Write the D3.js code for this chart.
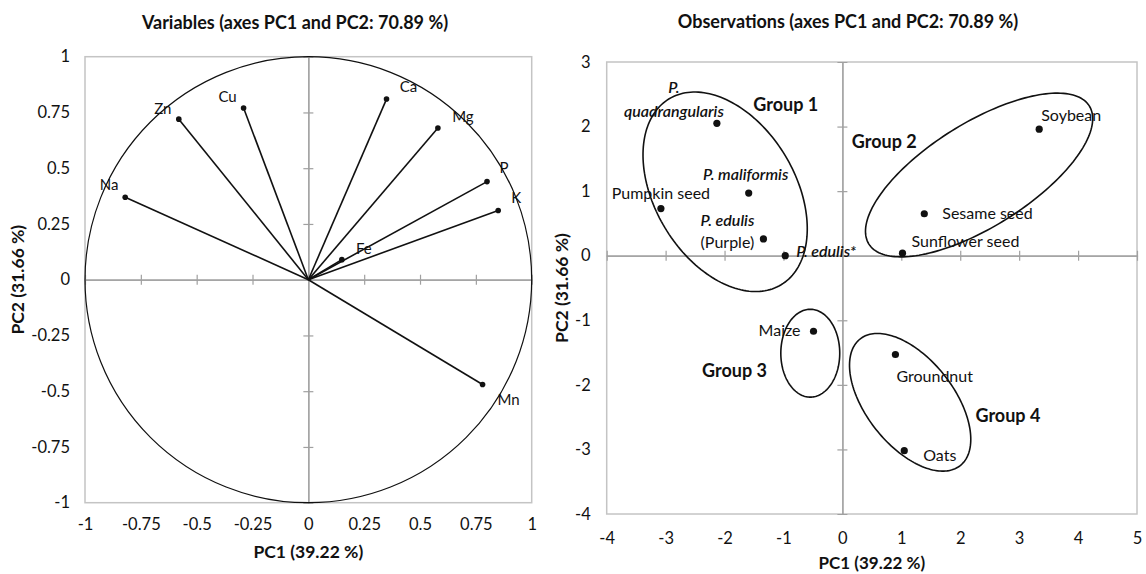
<!DOCTYPE html>
<html><head><meta charset="utf-8">
<script src="https://cdn.jsdelivr.net/npm/d3@7"></script>
<style>
body{margin:0;background:#fff}
svg{display:block}
text{font-family:Lato,"Open Sans",sans-serif;fill:#111}
</style>
</head><body>
<svg id="chart" width="1146" height="574"></svg>
<script>
// ---------------- DATA ----------------
const leftTitle = "Variables (axes PC1 and PC2: 70.89 %)";
const rightTitle = "Observations (axes PC1 and PC2: 70.89 %)";
const xTitle = "PC1 (39.22 %)";
const yTitle = "PC2 (31.66 %)";

const varNames = ["Na", "Zn", "Cu", "Ca", "Mg", "P", "K", "Fe", "Mn"];
const varPC1 = [-0.82, -0.58, -0.29, 0.35, 0.58, 0.80, 0.85, 0.15, 0.78];
const varPC2 = [0.37, 0.72, 0.77, 0.81, 0.68, 0.44, 0.31, 0.09, -0.47];
const varTicks = [-1, -0.75, -0.5, -0.25, 0, 0.25, 0.5, 0.75, 1];

const obsNames = ["P. quadrangularis", "P. maliformis", "Pumpkin seed", "P. edulis (Purple)", "P. edulis*",
  "Soybean", "Sesame seed", "Sunflower seed", "Maize", "Groundnut", "Oats"];
const obsPC1 = [-2.13, -1.59, -3.08, -1.34, -0.97, 3.34, 1.39, 1.02, -0.49, 0.90, 1.05];
const obsPC2 = [2.05, 0.97, 0.73, 0.26, 0.00, 1.96, 0.65, 0.04, -1.17, -1.53, -3.02];
const obsXTicks = [-4, -3, -2, -1, 0, 1, 2, 3, 4, 5];
const obsYTicks = [-4, -3, -2, -1, 0, 1, 2, 3];

const groupNames = ["Group 1", "Group 2", "Group 3", "Group 4"];
const groupCenterPC1 = [-1.99, 2.32, -0.545, 1.15];
const groupCenterPC2 = [0.99, 1.25, -1.51, -2.27];
// conjugate semi-diameters of each group ellipse, in PC units
const groupAxisA = [[0.95, -1.44], [1.87, 1.07], [0.0, -0.68], [0.85, -0.98]];
const groupAxisB = [[-1.02, -0.56], [0.47, -0.68], [0.50, 0.0], [-0.58, -0.42]];
const groupLabelPC1 = [-0.96, 0.71, -1.83, 2.81];
const groupLabelPC2 = [2.34, 1.77, -1.78, -2.47];

// ---------------- LAYOUT ----------------
const varLabelOffset = {Na:[-16,-13], Zn:[-16,-11], Cu:[-16,-11], Ca:[22,-12], Mg:[25,-11],
  P:[17,-14], K:[18,-13], Fe:[22,-11], Mn:[26,15]};
const obsLabelLayout = {
  "P. quadrangularis": {anchor:"middle", dx:-43, dy:-36, split:1, gap:23.5},
  "P. maliformis": {anchor:"middle", dx:-3, dy:-19},
  "Pumpkin seed": {anchor:"middle", dx:0, dy:-15},
  "P. edulis (Purple)": {anchor:"middle", dx:-36, dy:-19, split:2, gap:22.5},
  "P. edulis*": {anchor:"start", dx:11, dy:-4},
  "Soybean": {anchor:"start", dx:2, dy:-14},
  "Sesame seed": {anchor:"start", dx:18, dy:-1},
  "Sunflower seed": {anchor:"start", dx:9, dy:-12},
  "Maize": {anchor:"end", dx:-13, dy:-1},
  "Groundnut": {anchor:"start", dx:1, dy:22},
  "Oats": {anchor:"start", dx:19, dy:5}
};

const svg = d3.select("#chart");
const gridColor = "#a0a0a0", borderColor = "#c4c4c4", ink = "#111";
const tickFont = "16.5px";

function fmt(d){ return String(d); }

function frame(g, x, y, xt, yt, xPad, yPad){
  const [x0, x1] = x.range(), [y1, y0] = y.range();
  g.append("rect").attr("x", x0).attr("y", y0).attr("width", x1 - x0).attr("height", y1 - y0)
    .attr("fill", "none").attr("stroke", borderColor).attr("stroke-width", 1.5);
  const inner = (ts, s) => ts.filter(t => t !== 0 && t !== s.domain()[0] && t !== s.domain()[1]);
  const xz = g.append("g").attr("transform", `translate(0,${y(0)})`);
  xz.call(d3.axisBottom(x).tickValues(inner(xt, x)).tickSize(5).tickFormat(""));
  xz.append("g").call(d3.axisTop(x).tickValues(inner(xt, x)).tickSize(5).tickFormat(""));
  const yz = g.append("g").attr("transform", `translate(${x(0)},0)`);
  yz.call(d3.axisLeft(y).tickValues(inner(yt, y)).tickSize(5).tickFormat(""));
  yz.append("g").call(d3.axisRight(y).tickValues(inner(yt, y)).tickSize(5).tickFormat(""));
  g.selectAll(".domain, .tick line").attr("stroke", gridColor).attr("stroke-width", 1.2);
  const bx = g.append("g").attr("transform", `translate(0,${y1})`)
    .call(d3.axisBottom(x).tickValues(xt).tickSize(0).tickPadding(xPad).tickFormat(fmt));
  const ly = g.append("g").attr("transform", `translate(${x0},0)`)
    .call(d3.axisLeft(y).tickValues(yt).tickSize(0).tickPadding(yPad).tickFormat(fmt));
  [bx, ly].forEach(a => {
    a.select(".domain").remove();
    a.selectAll("text").attr("font-size", tickFont).attr("font-family", "Lato, 'Open Sans', sans-serif").attr("fill", "#111");
  });
}

// ---------------- LEFT PANEL ----------------
const xL = d3.scaleLinear().domain([-1, 1]).range([85, 531.7]);
const yL = d3.scaleLinear().domain([-1, 1]).range([502.7, 56.7]);
const gL = svg.append("g");
frame(gL, xL, yL, varTicks, varTicks, 16, 15);

gL.append("ellipse").attr("cx", xL(0)).attr("cy", yL(0))
  .attr("rx", xL(1) - xL(0)).attr("ry", yL(0) - yL(1))
  .attr("fill", "none").attr("stroke", ink).attr("stroke-width", 1.2);

varNames.forEach((n, i) => {
  gL.append("line").attr("x1", xL(0)).attr("y1", yL(0)).attr("x2", xL(varPC1[i])).attr("y2", yL(varPC2[i]))
    .attr("stroke", ink).attr("stroke-width", 1.6);
  gL.append("circle").attr("cx", xL(varPC1[i])).attr("cy", yL(varPC2[i])).attr("r", 2.8).attr("fill", ink);
  const o = varLabelOffset[n];
  gL.append("text").attr("x", xL(varPC1[i]) + o[0]).attr("y", yL(varPC2[i]) + o[1]).attr("dy", "0.36em")
    .attr("text-anchor", "middle").attr("font-size", "15px").text(n);
});

gL.append("text").attr("x", 295).attr("y", 23).attr("dy", "0.36em").attr("text-anchor", "middle")
  .attr("font-size", "18px").attr("font-weight", "bold").text(leftTitle);
gL.append("text").attr("x", (xL(-1) + xL(1)) / 2).attr("y", 551.7).attr("dy", "0.36em").attr("text-anchor", "middle")
  .attr("font-size", "17.5px").attr("font-weight", "bold").text(xTitle);
gL.append("text").attr("transform", `translate(18,${yL(0)}) rotate(-90)`).attr("dy", "0.36em").attr("text-anchor", "middle")
  .attr("font-size", "17.5px").attr("font-weight", "bold").text(yTitle);

// ---------------- RIGHT PANEL ----------------
const xR = d3.scaleLinear().domain([-4, 5]).range([606.7, 1137]);
const yR = d3.scaleLinear().domain([-4, 3]).range([514, 62]);
const gR = svg.append("g");
frame(gR, xR, yR, obsXTicks, obsYTicks, 18, 16);

const ellLine = d3.line().curve(d3.curveLinearClosed);
groupNames.forEach((g, i) => {
  const pts = d3.range(0, 2 * Math.PI, Math.PI / 90).map(t => {
    const px = groupCenterPC1[i] + Math.cos(t) * groupAxisA[i][0] + Math.sin(t) * groupAxisB[i][0];
    const py = groupCenterPC2[i] + Math.cos(t) * groupAxisA[i][1] + Math.sin(t) * groupAxisB[i][1];
    return [xR(px), yR(py)];
  });
  gR.append("path").attr("d", ellLine(pts)).attr("fill", "none").attr("stroke", ink).attr("stroke-width", 1.6);
  gR.append("text").attr("x", xR(groupLabelPC1[i])).attr("y", yR(groupLabelPC2[i])).attr("dy", "0.36em")
    .attr("text-anchor", "middle").attr("font-size", "18px").attr("font-weight", "bold").text(g);
});

obsNames.forEach((n, i) => {
  const cx = xR(obsPC1[i]), cy = yR(obsPC2[i]);
  gR.append("circle").attr("cx", cx).attr("cy", cy).attr("r", 3.6).attr("fill", ink);
  const L = obsLabelLayout[n];
  const words = n.split(" ");
  const lines = L.split ? [words.slice(0, L.split).join(" "), words.slice(L.split).join(" ")] : [n];
  lines.forEach((s, k) => {
    const italic = n.startsWith("P.") && !s.startsWith("(");
    gR.append("text").attr("x", cx + L.dx).attr("y", cy + L.dy + k * (L.gap || 0)).attr("dy", "0.36em")
      .attr("text-anchor", L.anchor).attr("font-size", "16px")
      .attr("font-style", italic ? "italic" : "normal").attr("font-weight", italic ? "600" : "normal")
      .text(s);
  });
});

gR.append("text").attr("x", 848).attr("y", 22).attr("dy", "0.36em").attr("text-anchor", "middle")
  .attr("font-size", "18px").attr("font-weight", "bold").text(rightTitle);
gR.append("text").attr("x", (xR(-4) + xR(5)) / 2).attr("y", 562.5).attr("dy", "0.36em").attr("text-anchor", "middle")
  .attr("font-size", "17px").attr("font-weight", "bold").text(xTitle);
gR.append("text").attr("transform", `translate(561.7,${(yR(-4) + yR(3)) / 2}) rotate(-90)`).attr("dy", "0.36em").attr("text-anchor", "middle")
  .attr("font-size", "17.5px").attr("font-weight", "bold").text(yTitle);
</script>
</body></html>
